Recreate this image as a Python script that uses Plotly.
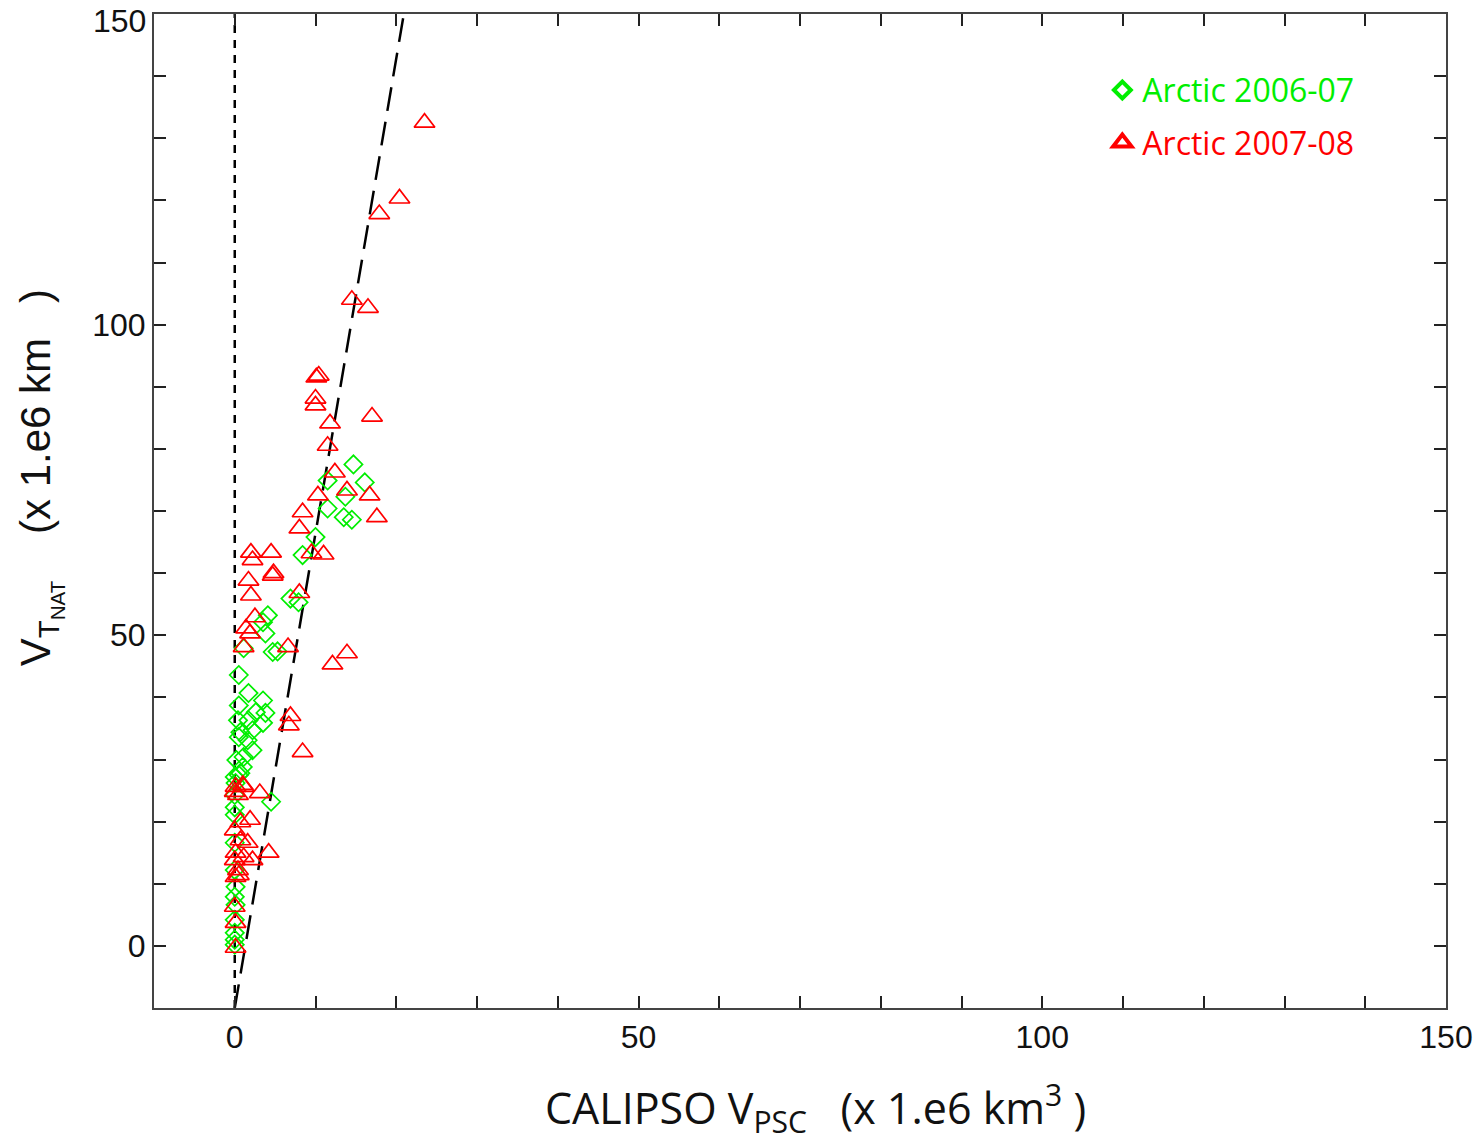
import plotly.graph_objects as go

# ---- data ----
arctic_0607_x = [14.7, 16.1, 11.5, 13.7, 11.5, 13.5, 14.5, 10.0, 8.4, 6.9, 7.9, 4.1, 3.5, 3.8,
                 1.1, 4.7, 5.3, 0.5, 1.7, 3.5, 0.5, 3.8, 2.6, 0.4, 1.7, 3.5, 0.7, 2.2, 0.5, 1.6,
                 2.2, 1.1, 1.0, 0.5, 0.1, 4.5, 0.7, 0.0, 0.0, 0.0, 0.0, 0.1, 0.0, 0.1, 0.0, 0.0,
                 0.0, 0.2, 0.0, 0.0, 0.0]
arctic_0607_y = [77.5, 74.6, 74.9, 72.3, 70.4, 69.0, 68.6, 65.8, 62.9, 55.9, 55.3, 53.2, 52.1, 50.3,
                 47.9, 47.3, 47.4, 43.6, 40.7, 39.5, 38.7, 37.5, 37.6, 36.3, 36.3, 35.9, 34.4, 34.7,
                 33.6, 33.1, 31.5, 30.4, 28.8, 27.5, 26.2, 23.2, 27.8, 27.2, 22.3, 21.1, 16.6, 9.5,
                 7.9, 6.6, 2.1, 1.0, 0.2, 29.9, 24.3, 12.2, 4.2]

arctic_0708_x = [23.5, 20.4, 17.9, 14.5, 16.5, 17.0, 10.1, 10.4, 10.0, 10.0, 11.8, 11.5, 12.4, 13.9,
                 16.7, 10.3, 17.6, 8.4, 8.0, 9.5, 11.0, 8.0, 12.1, 13.9, 2.0, 4.5, 2.2, 4.8, 4.7,
                 1.7, 2.0, 2.5, 1.4, 1.9, 1.1, 6.6, 6.9, 6.7, 8.4, 0.1, 1.1, 0.4, 3.1, 1.9, 0.0,
                 1.6, 4.2, 0.1, 1.1, 0.0, 0.4, 0.1, 0.0, 0.1, 0.1, 1.0, 0.7, 2.2, 0.0, 0.7, 0.5]
arctic_0708_y = [132.5, 120.3, 117.8, 104.0, 102.7, 85.2, 91.5, 91.8, 88.1, 87.0, 84.1, 80.5, 76.2,
                 73.3, 72.5, 72.5, 69.0, 69.8, 67.2, 63.2, 63.0, 56.8, 45.3, 47.1, 63.3, 63.3, 62.1,
                 60.0, 59.6, 58.8, 56.4, 52.9, 51.1, 50.3, 48.1, 48.1, 37.0, 35.5, 31.2, 25.6, 25.6,
                 24.3, 24.6, 20.3, 18.6, 16.6, 15.0, 15.0, 14.3, 13.8, 12.2, 11.1, 6.3, 3.7, -0.3,
                 25.9, 19.9, 13.8, 24.8, 17.0, 11.4]

zero_line_x = [0, 0]
zero_line_y = [-10, 152]
fit_line_x = [0.0, 21.2]
fit_line_y = [-10.0, 152.0]

axis_range = [-10, 150]
tick_vals = list(range(0, 151, 10))
x_tick_text = [str(v) if v % 50 == 0 else "" for v in tick_vals]
# the top y label (150) is drawn separately, nudged inside the page as in the reference
y_tick_text = [str(v) if (v % 50 == 0 and v < 150) else "" for v in tick_vals]
y_top_label = 150

legend_names = ["Arctic 2006-07", "Arctic 2007-08"]
x_title = "CALIPSO V<sub>PSC</sub>   (x 1.e6 km<sup>3</sup> )"
y_title = "V<sub>T<sub>NAT</sub></sub>    (x 1.e6 km   )"

GREEN = "#00ee00"
RED = "#ff0000"
TICK_FONT = dict(family="Liberation Sans, Arial", size=32, color="#111")

fig = go.Figure()

fig.add_trace(go.Scatter(x=zero_line_x, y=zero_line_y, mode="lines", showlegend=False,
                         line=dict(color="black", width=2.5, dash="8px,7px"), hoverinfo="skip"))
fig.add_trace(go.Scatter(x=fit_line_x, y=fit_line_y, mode="lines", showlegend=False,
                         line=dict(color="black", width=2.5, dash="24px,11px"), hoverinfo="skip"))

fig.add_trace(go.Scatter(
    x=arctic_0607_x, y=arctic_0607_y, mode="markers", showlegend=False,
    marker=dict(symbol="diamond-open", size=14, color=GREEN, line=dict(width=1.7, color=GREEN)),
))
fig.add_trace(go.Scatter(
    x=arctic_0708_x, y=arctic_0708_y, mode="markers", showlegend=False,
    marker=dict(symbol="triangle-up-open", size=18, color=RED, line=dict(width=1.7, color=RED)),
))

# legend-only entries with heavier symbols, as in the reference
fig.add_trace(go.Scatter(
    x=[None], y=[None], mode="markers", legendgroup="a",
    name="<span style='color:%s'>%s</span>" % (GREEN, legend_names[0]),
    marker=dict(symbol="diamond-open", size=13, color=GREEN, line=dict(width=4, color=GREEN)),
))
fig.add_trace(go.Scatter(
    x=[None], y=[None], mode="markers", legendgroup="b",
    name="<span style='color:%s'>%s</span>" % (RED, legend_names[1]),
    marker=dict(symbol="triangle-up-open", size=16, color=RED, line=dict(width=4, color=RED)),
))

axis_common = dict(
    range=axis_range, tickvals=tick_vals,
    ticks="inside", ticklen=12, tickwidth=1.5, tickcolor="#222",
    showline=True, linecolor="#444", linewidth=2, mirror="ticks",
    showgrid=False, zeroline=False, ticklabeloverflow="allow", automargin=False,
    tickfont=TICK_FONT,
)

fig.update_layout(
    width=1482, height=1146,
    margin=dict(l=154, r=36, t=14, b=138, autoexpand=False),
    plot_bgcolor="white", paper_bgcolor="white",
    xaxis=dict(**axis_common, ticktext=x_tick_text),
    yaxis=dict(**axis_common, ticktext=y_tick_text),
    legend=dict(x=0.734, y=0.951, xanchor="left", yanchor="top",
                font=dict(family="Open Sans", size=32),
                bgcolor="rgba(0,0,0,0)", tracegroupgap=8, itemsizing="trace"),
    annotations=[
        dict(text=str(y_top_label), xref="paper", yref="y", x=0, y=y_top_label,
             xanchor="right", yanchor="middle", xshift=-6, yshift=-7, showarrow=False,
             font=TICK_FONT),
        dict(text=x_title, xref="paper", yref="paper", x=0.512, y=-0.1006,
             xanchor="center", yanchor="middle", showarrow=False,
             font=dict(family="Open Sans", size=43, color="#111")),
        dict(text=y_title, xref="paper", yref="paper", x=-0.0882, y=0.533,
             xanchor="center", yanchor="middle", showarrow=False, textangle=-90,
             font=dict(family="Liberation Sans, Arial", size=42, color="#111")),
    ],
)

fig.write_html("out.html")
